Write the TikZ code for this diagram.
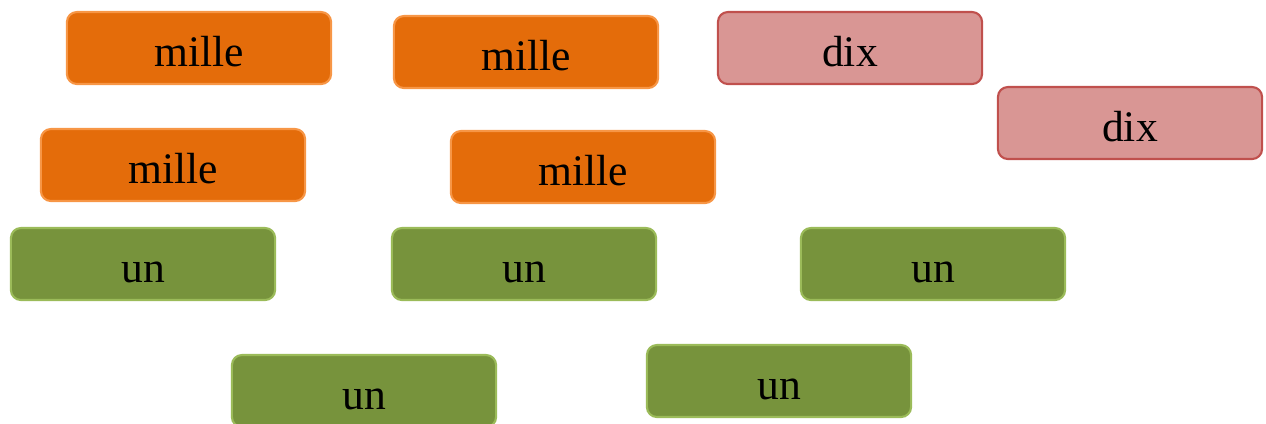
\documentclass[tikz,border=0pt]{standalone}
\usepackage{fontspec}
\setmainfont{Liberation Serif}
\definecolor{milleFill}{HTML}{E46C0A}
\definecolor{milleLine}{HTML}{F79646}
\definecolor{dixFill}{HTML}{D99694}
\definecolor{dixLine}{HTML}{C0504D}
\definecolor{unFill}{HTML}{77933C}
\definecolor{unLine}{HTML}{9BBB59}
\begin{document}
\begin{tikzpicture}[x=0.01cm, y=-0.01cm,
    card/.style={rounded corners=0.1cm, line width=0.6pt, minimum width=2.64cm, minimum height=0.72cm, inner sep=0pt, text height=10.4pt, text depth=0pt, font=\fontsize{12.4}{14}\selectfont},
    mille/.style={card, fill=milleFill, draw=milleLine},
    dix/.style={card, fill=dixFill, draw=dixLine},
    un/.style={card, fill=unFill, draw=unLine}]
        \useasboundingbox (0,0) rectangle (1266,423);
        \node[mille] (milleA) at (199,48) {mille};
        \node[mille] (milleB) at (526,52) {mille};
        \node[dix] (dixA) at (850,48) {dix};
        \node[dix] (dixB) at (1130,123) {dix};
        \node[mille] (milleC) at (173,165) {mille};
        \node[mille] (milleD) at (583,167) {mille};
        \node[un] (unA) at (143,264) {un};
        \node[un] (unB) at (524,264) {un};
        \node[un] (unC) at (933,264) {un};
        \node[un] (unD) at (364,391) {un};
        \node[un] (unE) at (779,381) {un};
    \end{tikzpicture}
\end{document}
